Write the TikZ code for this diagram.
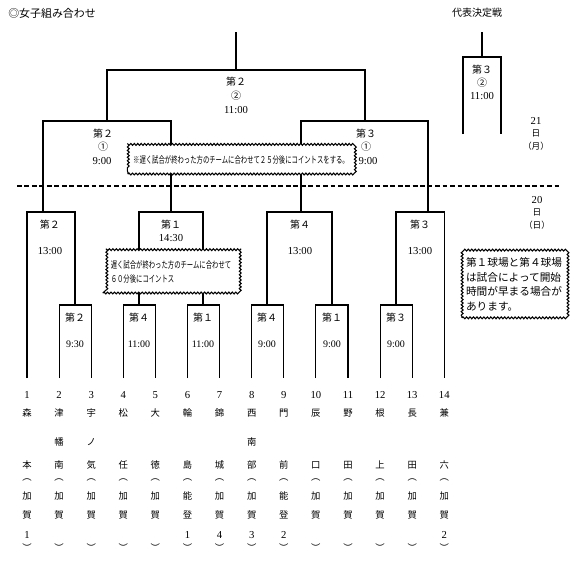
\documentclass[tikz,border=0pt]{standalone}
\usepackage{fontspec}
\setmainfont{Liberation Serif}
\newfontfamily\jpn{Noto Sans CJK JP}
\newfontfamily\jpnarrow[FakeStretch=0.68]{Noto Sans CJK JP}
\usetikzlibrary{decorations.pathmorphing}

\begin{document}
\begin{tikzpicture}[
  x=0.75pt, y=-0.75pt,
  line/.style={line width=0.8pt},
  court/.style={font=\jpn\fontsize{7.5}{8}\selectfont, inner sep=0pt},
  clock/.style={font=\fontsize{8}{9}\selectfont, inner sep=0pt},
  numtext/.style={font=\fontsize{8}{9}\selectfont, inner sep=0pt},
  namechar/.style={font=\jpn\fontsize{7}{8}\selectfont, inner sep=0pt},
  notebox/.style={
    draw, fill=white, line width=0.8pt, decorate,
    decoration={snake, segment length=2.6pt, amplitude=0.7pt},
    inner sep=0pt,
  },
]
\useasboundingbox (0,0) rectangle (575,561);

% Headings.
\node[font=\jpn\fontsize{8.2}{9}\selectfont, inner sep=0pt] (title) at (52,13) {◎女子組み合わせ};
\node[font=\jpn\fontsize{7.5}{9}\selectfont, inner sep=0pt] (final) at (477,13) {代表決定戦};

% Fourteen teams, written top to bottom under their lines.
\foreach \i/\a/\b/\c/\ka/\kb/\d in {
  1/森/{}/本/加/賀/1, 2/津/幡/南/加/賀/{}, 3/宇/ノ/気/加/賀/{},
  4/松/{}/任/加/賀/{}, 5/大/{}/徳/加/賀/{}, 6/輪/{}/島/能/登/1,
  7/錦/{}/城/加/賀/4, 8/西/南/部/加/賀/3, 9/門/{}/前/能/登/2,
  10/辰/{}/口/加/賀/{}, 11/野/{}/田/加/賀/{}, 12/根/{}/上/加/賀/{},
  13/長/{}/田/加/賀/{}, 14/兼/{}/六/加/賀/2} {
  \pgfmathsetmacro\px{27+32.1*(\i-1)}
  \coordinate (p\i) at (\px,378);
  \node[numtext]  (num\i) at (\px,395) {\i};
  \node[namechar] (na\i)  at (\px,413) {\a};
  \node[namechar] (nb\i)  at (\px,442) {\b};
  \node[namechar] (nc\i)  at (\px,465) {\c};
  \node[namechar] (po\i)  at (\px,480) {︵};
  \node[namechar] (ka\i)  at (\px,496) {\ka};
  \node[namechar] (kb\i)  at (\px,515) {\kb};
  \node[numtext]  (nd\i)  at (\px,535) {\d};
  \node[namechar] (pc\i)  at (\px,548) {︶};
}

% First round.
\foreach \l/\r/\m/\x in {2/3/a/75, 4/5/b/139, 6/7/c/203, 8/9/d/267, 10/11/e/332, 12/13/f/396} {
  \coordinate (m\m) at (\x,305);
  \draw[line] (p\l) |- (m\m) -| (p\r);
}

% Second round (day 20).
\coordinate (wg) at (43,212);
\coordinate (wh) at (171,212);
\coordinate (wi) at (301,212);
\coordinate (wj) at (428,212);
\draw[line] (p1) |- (wg) -| (ma);
\draw[line] (mb) |- (wh) -| (mc);
\draw[line] (md) |- (wi) -| (me);
\draw[line] (mf) |- (wj) -| (p14);

% Third round and final (day 21).
\coordinate (sk) at (107,121);
\coordinate (sl) at (365,121);
\coordinate (fin) at (236,70);
\coordinate (champ) at (236,32);
\draw[line] (wg) |- (sk) -| (wh);
\draw[line] (wi) |- (sl) -| (wj);
\draw[line] (sk) |- (fin) -| (sl);
\draw[line] (fin) -- (champ);

% Play-off for the representative place.
\coordinate (rep) at (482,57);
\coordinate (repup) at (482,32);
\coordinate (repl) at (463,134);
\coordinate (repr) at (501,134);
\draw[line] (repl) |- (rep) -| (repr);
\draw[line] (rep) -- (repup);

% Day divider.
\coordinate (divl) at (17,186);
\coordinate (divr) at (560,186);
\draw[line width=1.3pt, dash pattern=on 3.6pt off 2pt] (divl) -- (divr);

% Notes.
\node[notebox, minimum width=169.5pt, minimum height=21pt] (note1) at (241,160)
  {\jpnarrow\fontsize{7}{8}\selectfont ※遅く試合が終わった方のチームに合わせて２５分後にコイントスをする。};
\node[notebox, minimum width=102pt, minimum height=31.5pt, align=left,
  font=\jpnarrow\fontsize{7}{10.5}\selectfont] (note2) at (171,272)
  {遅く試合が終わった方のチームに合わせて\\６０分後にコイントス\hspace{21pt}};
\node[notebox, minimum width=78pt, minimum height=50pt, align=left,
  font=\jpn\fontsize{8}{10.9}\selectfont] (note3) at (514,284.5)
  {第１球場と第４球場\\は試合によって開始\\時間が早まる場合が\\あります。\hspace{32pt}};

% Dates.
\node[numtext] (d21) at (536,121) {21};
\node[namechar, font=\jpn\fontsize{6.5}{7}\selectfont] (d21a) at (536,133) {日};
\node[namechar, font=\jpn\fontsize{6.5}{7}\selectfont] (d21b) at (536,146) {（月）};
\node[numtext] (d20) at (537,200) {20};
\node[namechar, font=\jpn\fontsize{6.5}{7}\selectfont] (d20a) at (537,212) {日};
\node[namechar, font=\jpn\fontsize{6.5}{7}\selectfont] (d20b) at (537,225) {（日）};

% Court and start time of every game.
\foreach \m/\x/\c/\t in {a/75/２/9:30, b/139/４/11:00, c/203/１/11:00, d/267/４/9:00, e/332/１/9:00, f/396/３/9:00} {
  \node[court] (cm\m) at (\x,318) {第\c};
  \node[clock, font=\fontsize{7.5}{8}\selectfont] (tm\m) at (\x,344) {\t};
}
\foreach \m/\x/\c/\t/\ty in {g/50/２/13:00/251, h/171/１/14:30/238, i/300/４/13:00/251, j/420/３/13:00/251} {
  \node[court] (cw\m) at (\x,225) {第\c};
  \node[clock] (tw\m) at (\x,\ty) {\t};
}
\node[court] (csk) at (103,134) {第２};
\node[court] (osk) at (103,147) {①};
\node[clock] (tsk) at (102,161) {9:00};
\node[court] (csl) at (366,134) {第３};
\node[court] (osl) at (366,147) {①};
\node[clock] (tsl) at (368,161) {9:00};
\node[court] (cfin) at (236,82) {第２};
\node[court] (ofin) at (236,96) {②};
\node[clock] (tfin) at (236,110) {11:00};
\node[court] (crep) at (482,70) {第３};
\node[court] (orep) at (482,83) {②};
\node[clock] (trep) at (482,96) {11:00};

\end{tikzpicture}
\end{document}
